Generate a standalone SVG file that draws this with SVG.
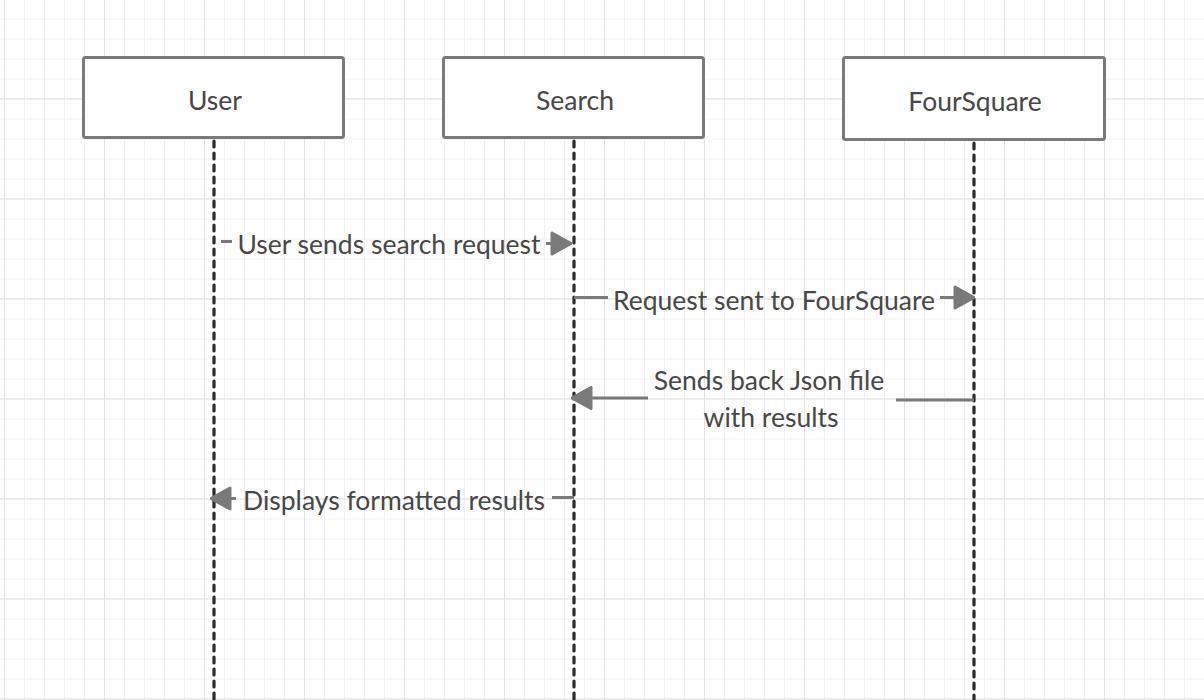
<svg xmlns="http://www.w3.org/2000/svg" width="1204" height="700" viewBox="0 0 1204 700">
<defs>
<pattern id="minor" width="20" height="20" patternUnits="userSpaceOnUse" x="4" y="18.5">
<path d="M0 0H20M0 0V20" fill="none" stroke="#f0f0f0" stroke-width="2"/>
</pattern>
<pattern id="major" width="100" height="100" patternUnits="userSpaceOnUse" x="4" y="98.5">
<path d="M0 0H100M0 0V100" fill="none" stroke="#e2e2e2" stroke-width="2"/>
</pattern>
<marker id="arrow" viewBox="0 0 22 25" refX="21" refY="12.5" markerWidth="22" markerHeight="25" markerUnits="userSpaceOnUse" orient="auto">
<path d="M2 2 L21 12.5 L2 23 Z" fill="#7a7a7a" stroke="#7a7a7a" stroke-width="3" stroke-linejoin="round"/>
</marker>
</defs>
<style>
.box{fill:#ffffff;stroke:#7a7a7a;stroke-width:3}
.lbl{font-family:Lato,"Liberation Sans",sans-serif;font-size:26.5px;fill:#474747;text-anchor:middle}
.msg{font-family:Lato,"Liberation Sans",sans-serif;font-size:26.5px;fill:#474747;text-anchor:middle}
.life{stroke:#2b2b2b;stroke-width:3.2;stroke-dasharray:6 6;stroke-linecap:round;fill:none}
.line{stroke:#7a7a7a;stroke-width:3;fill:none}
</style>
<rect width="1204" height="700" fill="#ffffff"/>
<rect width="1204" height="700" fill="url(#minor)"/>
<rect width="1204" height="700" fill="url(#major)"/>
<g id="lifelines">
<line class="life" x1="214" y1="141" x2="214" y2="700"/>
<line class="life" x1="574" y1="141" x2="574" y2="700"/>
<line class="life" x1="974" y1="143" x2="974" y2="700"/>
</g>
<g id="user">
<rect class="box" x="83.5" y="57.5" width="260" height="80" rx="2"/>
<text class="lbl" x="215" y="110">User</text>
</g>
<g id="search">
<rect class="box" x="443.5" y="57.5" width="260" height="80" rx="2"/>
<text class="lbl" x="575" y="110">Search</text>
</g>
<g id="foursquare">
<rect class="box" x="843.5" y="57.5" width="261" height="82" rx="2"/>
<text class="lbl" x="975" y="111">FourSquare</text>
</g>
<g id="connectors">
<line class="line" x1="221" y1="241.5" x2="232" y2="241.5"/>
<line class="line" x1="546" y1="243.5" x2="571" y2="243.5" marker-end="url(#arrow)"/>
<text class="msg" x="389" y="254">User sends search request</text>
<line class="line" x1="574" y1="297.5" x2="608" y2="297.5"/>
<line class="line" x1="940" y1="297.5" x2="974" y2="297.5" marker-end="url(#arrow)"/>
<text class="msg" x="774" y="310">Request sent to FourSquare</text>
<line class="line" x1="974" y1="400" x2="896" y2="400"/>
<line class="line" x1="648" y1="398" x2="572" y2="398" marker-end="url(#arrow)"/>
<text class="msg" x="769" y="390">Sends back Json file</text>
<text class="msg" x="771" y="427">with results</text>
<line class="line" x1="574" y1="497.5" x2="552" y2="497.5"/>
<line class="line" x1="236" y1="498.5" x2="211" y2="498.5" marker-end="url(#arrow)"/>
<text class="msg" x="394" y="510">Displays formatted results</text>
</g>
</svg>
